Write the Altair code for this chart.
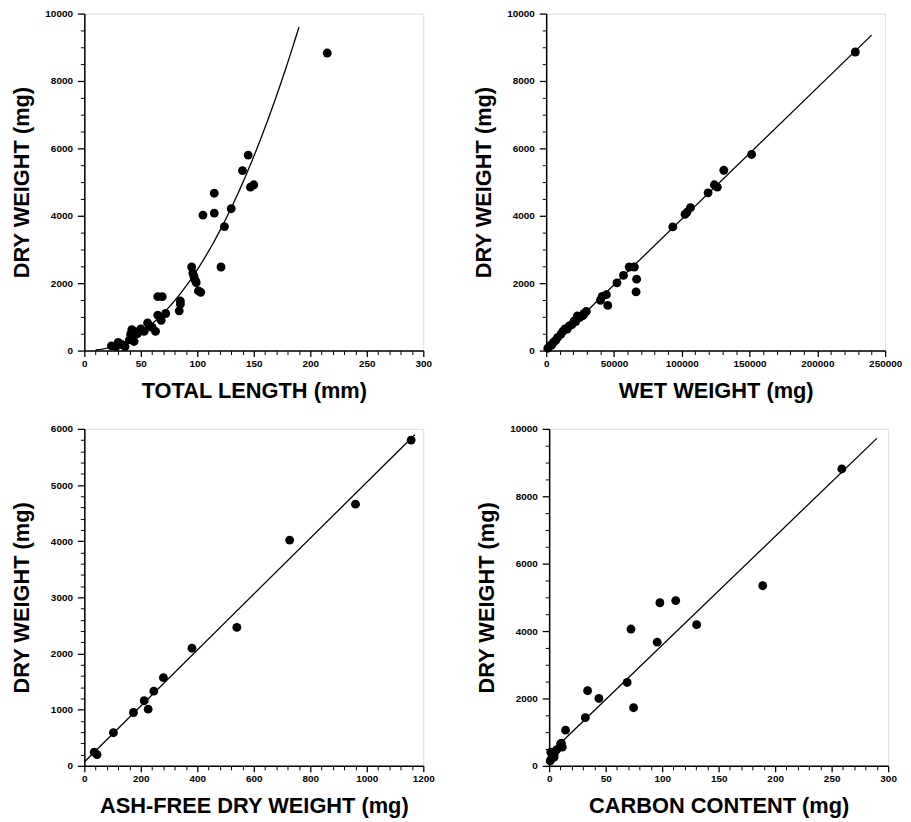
import altair as alt
import pandas as pd
import numpy as np

# ---- Panel 1: total length vs dry weight ----
tl_len = [24, 28, 30, 33, 36, 40, 41, 42, 44, 45, 47, 50, 53, 56, 58, 60, 63, 65, 65, 68,
          69, 72, 84, 85, 85, 95, 96, 97, 98, 99, 101, 103, 105, 115, 115, 121, 124, 130,
          140, 145, 147, 150, 215]
tl_dw = [140, 120, 240, 180, 120, 320, 480, 620, 270, 560, 500, 640, 570, 820, 720, 690, 570,
         1050, 1600, 900, 1600, 1100, 1180, 1380, 1470, 2480, 2300, 2200, 2100, 2020, 1770,
         1730, 4020, 4670, 4080, 2480, 3680, 4210, 5340, 5800, 4850, 4920, 8830]
pow_a, pow_b = 0.1149, 2.16
pow_range = [10, 190]

# ---- Panel 2: wet weight vs dry weight ----
ww = [1200, 2900, 4000, 5300, 7000, 8500, 10900, 12100, 13800, 15500, 17000, 19000, 20600,
      21800, 23000, 24500, 26700, 27500, 28000, 29600, 40000, 41300, 44400, 45400, 52200,
      57000, 61200, 65000, 66700, 66300, 93400, 102400, 103900, 106400, 119400, 124000,
      126200, 131000, 151500, 228000]
ww_dw = [70, 150, 160, 240, 300, 390, 490, 560, 640, 640, 730, 770, 880, 860, 1030, 980,
         1030, 1060, 1100, 1160, 1490, 1610, 1660, 1340, 2010, 2230, 2480, 2480, 2120, 1740,
         3670, 4040, 4110, 4240, 4680, 4920, 4850, 5350, 5820, 8860]
ww_slope, ww_int, ww_range = 0.0390, 0.0, [0, 240000]

# ---- Panel 3: ash-free dry weight vs dry weight ----
afdw = [35, 45, 103, 174, 212, 226, 246, 280, 381, 540, 727, 960, 1157]
afdw_dw = [245, 200, 590, 950, 1160, 1010, 1330, 1570, 2095, 2465, 4020, 4660, 5800]
af_slope, af_int, af_range = 4.98, 70.0, [0, 1170]

# ---- Panel 4: carbon content vs dry weight ----
cc = [0.9, 1.4, 2.0, 2.9, 4.4, 4.4, 6.7, 10.1, 10.8, 11.6, 14.5, 32, 34, 44, 69, 72.4,
      74.7, 95.6, 98, 112, 130.5, 189, 259]
cc_dw = [146, 409, 214, 282, 360, 263, 480, 652, 670, 555, 1060, 1430, 2230, 2000, 2475,
         4060, 1725, 3670, 4840, 4905, 4190, 5345, 8810]
cc_slope, cc_int, cc_range = 32.3, 350.0, [0, 290]

FONT = "Liberation Sans"
W, H = 342, 340


def panel(xs, ys, fx, fy, xtitle, xmax, xmajor, xminor, ymax, ymajor, yminor):
    df = pd.DataFrame({"x": xs, "y": ys})
    fit = pd.DataFrame({"x": fx, "y": fy})
    xscale = alt.Scale(domain=[0, xmax], nice=False)
    yscale = alt.Scale(domain=[0, ymax], nice=False)
    xmaj = list(range(0, xmax + 1, xmajor))
    ymaj = list(range(0, ymax + 1, ymajor))
    xmin = [v for v in range(0, xmax + 1, xminor) if v not in xmaj]
    ymin = [v for v in range(0, ymax + 1, yminor) if v not in ymaj]
    common = dict(grid=False, domainColor="black", tickColor="black", labelColor="black",
                  titleColor="black", labelFont=FONT, titleFont=FONT, labelFontSize=10,
                  labelFontWeight="bold", titleFontSize=22, titleFontWeight="bold",
                  domainWidth=1.5, tickWidth=1.3, format="d", labelFlush=False,
                  labelOverlap=False)
    ax_x = alt.Axis(values=xmaj, orient="bottom", title=xtitle, tickSize=6, labelPadding=2,
                    titlePadding=12, **common)
    ax_y = alt.Axis(values=ymaj, orient="left", title="DRY WEIGHT (mg)", tickSize=7,
                    labelPadding=5, titlePadding=9, minExtent=42, maxExtent=42, **common)
    mx = alt.Axis(values=xmin, orient="bottom", labels=False, title=None, grid=False,
                  domain=False, tickSize=4, tickWidth=1, tickColor="black")
    my = alt.Axis(values=ymin, orient="left", labels=False, title=None, grid=False,
                  domain=False, tickSize=4, tickWidth=1, tickColor="black")
    pts = alt.Chart(df).mark_circle(size=80, color="black", opacity=1).encode(
        x=alt.X("x:Q", scale=xscale, axis=ax_x),
        y=alt.Y("y:Q", scale=yscale, axis=ax_y),
    )
    line = alt.Chart(fit).mark_line(color="black", strokeWidth=1.3).encode(
        x=alt.X("x:Q", scale=xscale, axis=mx),
        y=alt.Y("y:Q", scale=yscale, axis=my),
    )
    return alt.layer(line, pts).resolve_axis(x="independent", y="independent").properties(
        width=W, height=H)


f1x = np.linspace(pow_range[0], pow_range[1], 91)
f1y = pow_a * f1x ** pow_b
p1 = panel(tl_len, tl_dw, f1x, f1y, "TOTAL LENGTH (mm)", 300, 50, 10, 10000, 2000, 500)
p2 = panel(ww, ww_dw, ww_range, [ww_int + ww_slope * v for v in ww_range],
           "WET WEIGHT (mg)", 250000, 50000, 10000, 10000, 2000, 500)
p3 = panel(afdw, afdw_dw, af_range, [af_int + af_slope * v for v in af_range],
           "ASH-FREE DRY WEIGHT (mg)", 1200, 200, 40, 6000, 1000, 200)
p4 = panel(cc, cc_dw, cc_range, [cc_int + cc_slope * v for v in cc_range],
           "CARBON CONTENT (mg)", 300, 50, 10, 10000, 2000, 500)

chart = alt.vconcat(
    alt.hconcat(p1, p2, spacing=40),
    alt.hconcat(p3, p4, spacing=40),
    spacing=21,
).properties(
    padding={"left": 2, "top": -4, "right": 0, "bottom": 0}
).configure_view(stroke="black", strokeWidth=1.5).configure(background="white")

chart.save("out.html", embed_options={"renderer": "svg", "actions": False})
